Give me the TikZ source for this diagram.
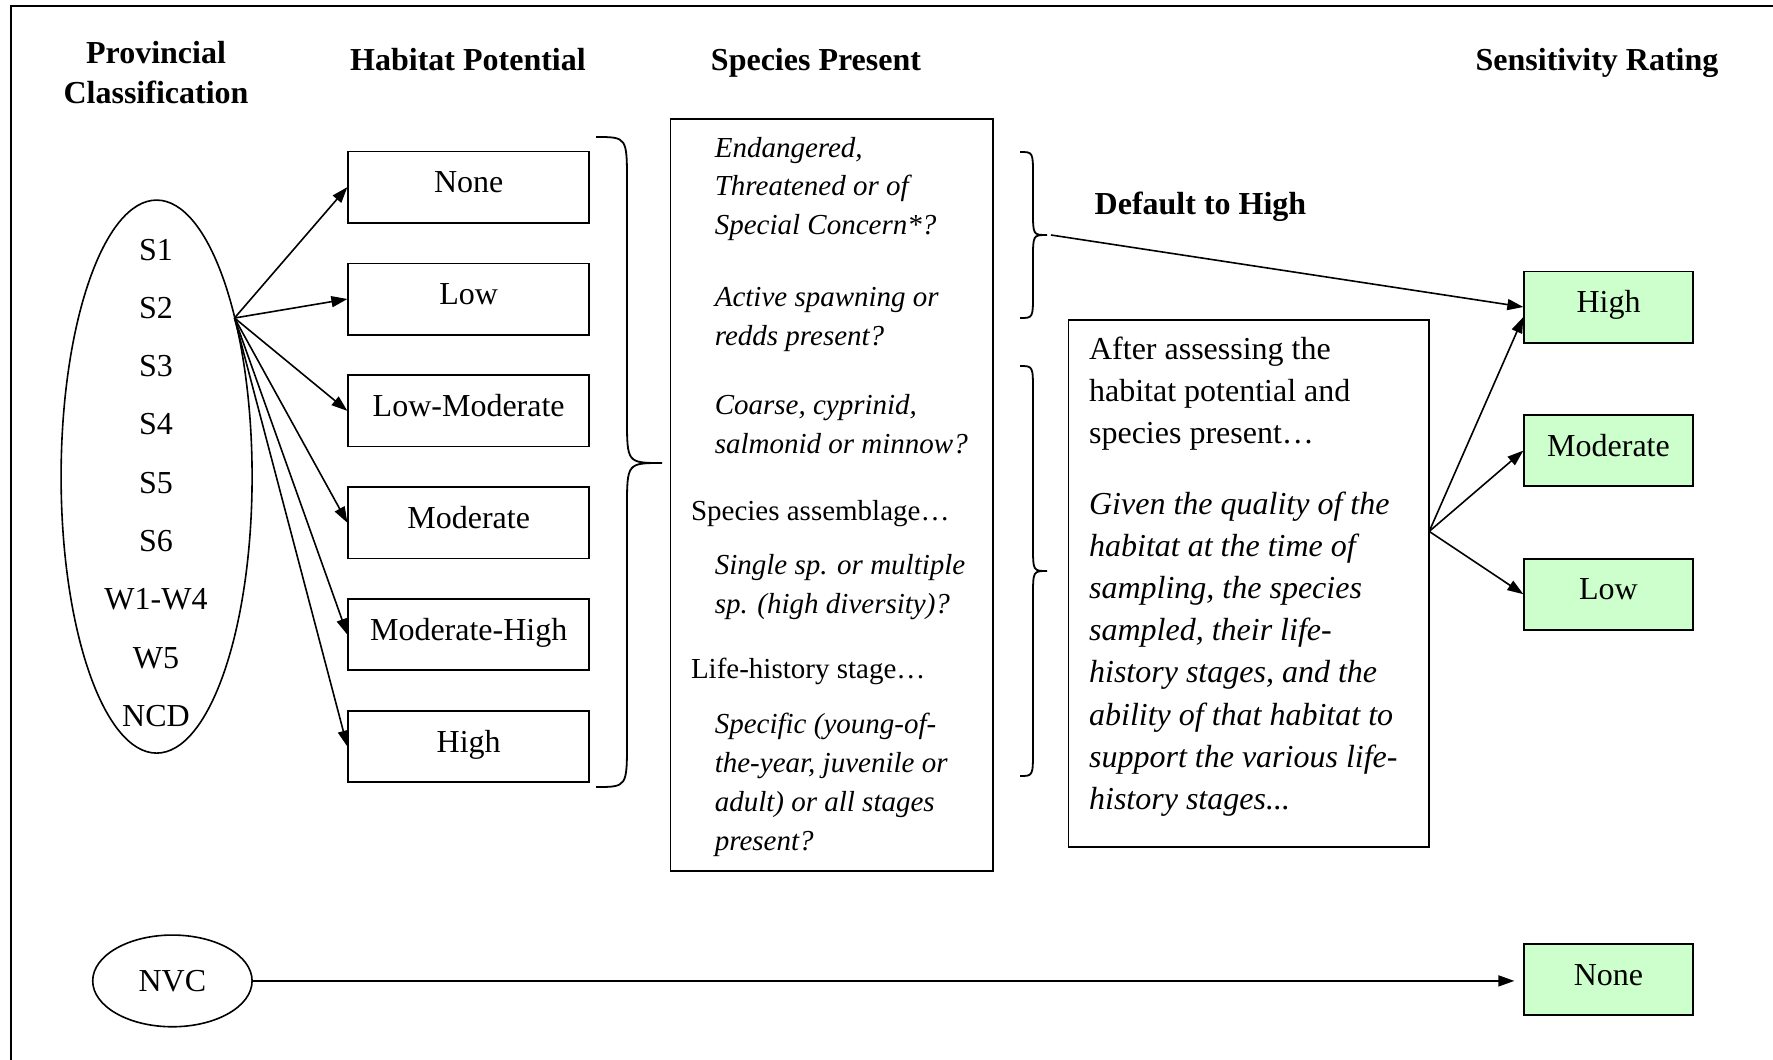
\documentclass[tikz,border=0pt]{standalone}
\usepackage{fontspec}
\setmainfont{Liberation Serif}
\usetikzlibrary{arrows.meta,shapes.geometric}
\definecolor{ratefill}{RGB}{204,255,204}
\begin{document}
\begin{tikzpicture}[x=1pt,y=-1pt,
  every node/.style={font=\fontsize{32}{38.8}\selectfont, inner sep=0pt},
  hbox/.style={draw, line width=1.8pt, minimum width=240.8pt, minimum height=71.2pt, text height=24pt, text depth=12.8pt},
  rbox/.style={hbox, fill=ratefill, minimum width=168.5pt},
  arr/.style={line width=1.6pt, -{Triangle[length=16pt,width=11pt]}},
  brc/.style={line width=1.8pt},
  head/.style={font=\fontsize{32}{40.7}\selectfont\bfseries, anchor=base, align=center},
  spit/.style={anchor=base west, align=left, font=\fontsize{29}{38.8}\selectfont\itshape},
  sprm/.style={anchor=base west, align=left, font=\fontsize{29}{38.8}\selectfont},
  oval/.style={draw, ellipse, line width=1.6pt},
  plainbox/.style={draw, line width=1.8pt}
]
\useasboundingbox (0,0) rectangle (1773,1060);
% outer frame
\draw[line width=1.8pt] (11,1062) -- (11,6) -- (1775,6);

% headings (base anchor = baseline of the last line)
\node[head] (hprov) at (156,103.7) {Provincial\\Classification};
\node[head] (hhab) at (468,70) {Habitat Potential};
\node[head] (hspec) at (816,70) {Species Present};
\node[head] (hsens) at (1597,70) {Sensitivity Rating};

% provincial classification ellipse
\node[oval, minimum width=191pt, minimum height=553pt] (prov) at (156.6,476.6) {};
\foreach \t [count=\i] in {S1,S2,S3,S4,S5,S6,W1-W4,W5,NCD}
  \node[anchor=base] (pc\i) at (156,{260+(\i-1)*58.3}) {\t};

% habitat potential boxes
\node[hbox] (hNone) at (468.7,187.1) {None};
\node[hbox] (hLow) at (468.7,299.0) {Low};
\node[hbox] (hLowMod) at (468.7,410.9) {Low-Moderate};
\node[hbox] (hMod) at (468.7,522.8) {Moderate};
\node[hbox] (hModHigh) at (468.7,634.7) {Moderate-High};
\node[hbox] (hHigh) at (468.7,746.6) {High};

\coordinate (fan) at (234.5,318);
\foreach \n in {hNone,hLow,hLowMod,hMod,hModHigh,hHigh}
  \draw[arr] (fan) -- (\n.west);

% big brace
\draw[brc] (596,137) .. controls (627,137) .. (627,183) -- (627,418)
  .. controls (627,463) .. (662,463) .. controls (627,463) .. (627,508)
  -- (627,741) .. controls (627,787) .. (596,787);

% species present box
\node[plainbox, minimum width=322.3pt, minimum height=751.9pt] (spec) at (831.65,494.65) {};
\node[spit] (sp1) at (714.6,234.6) {Endangered,\\Threatened or of\\Special Concern*?};
\node[spit] (sp2) at (714.6,345) {Active spawning or\\redds present?};
\node[spit] (sp3) at (714.6,453.6) {Coarse, cyprinid,\\salmonid or minnow?};
\node[sprm] (sp4) at (690.8,520) {Species assemblage…};
\node[spit] (sp5) at (714.6,613) {Single sp. or multiple\\sp. (high diversity)?};
\node[sprm] (sp6) at (690.8,678.2) {Life-history stage…};
\node[spit] (sp7) at (714.6,850) {Specific (young-of-\\the-year, juvenile or\\adult) or all stages\\present?};

% small braces
\draw[brc] (1020,152) .. controls (1033,152) .. (1033,176) -- (1033,211)
  .. controls (1033,235) .. (1047,235) .. controls (1033,235) .. (1033,259)
  -- (1033,294) .. controls (1033,318) .. (1020,318);
\coordinate (b2tip) at (1051,235);
\draw[brc] (1020,366) .. controls (1033,366) .. (1033,392) -- (1033,545)
  .. controls (1033,571) .. (1047,571) .. controls (1033,571) .. (1033,597)
  -- (1033,750) .. controls (1033,776) .. (1020,776);

\node[anchor=base west, font=\fontsize{32}{38.8}\selectfont\bfseries] (dflt) at (1094.5,214.7) {Default to High};

% assessment box
\node[plainbox, minimum width=360.7pt, minimum height=526.9pt] (assess) at (1248.85,583.45) {};
\node[anchor=base west, align=left, font=\fontsize{32}{41.8}\selectfont] (as1) at (1088.9,443) {After assessing the\\habitat potential and\\species present…};
\node[anchor=base west, align=left, font=\fontsize{32}{42.15}\selectfont\itshape] (as2) at (1088.9,809.35) {Given the quality of the\\habitat at the time of\\sampling, the species\\sampled, their life-\\history stages, and the\\ability of that habitat to\\support the various life-\\history stages...};

% rating boxes
\node[rbox] (rHigh) at (1608.5,307) {High};
\node[rbox] (rMod) at (1608.5,450.6) {Moderate};
\node[rbox] (rLow) at (1608.5,594.2) {Low};
\node[rbox] (rNone) at (1608.5,979.5) {None};

\draw[arr] (b2tip) -- (rHigh.west);
\coordinate (asout) at (1429.2,531.4);
\draw[arr] (asout) -- ([yshift=-10pt]rHigh.west);
\draw[arr] (asout) -- (rMod.west);
\draw[arr] (asout) -- (rLow.west);

% NVC
\node[oval, minimum width=159.4pt, minimum height=91.7pt] (nvc) at (172.4,980.9) {NVC};
\draw[arr, shorten >=9pt] (nvc.east) -- (nvc.east -| rNone.west);
\end{tikzpicture}
\end{document}
